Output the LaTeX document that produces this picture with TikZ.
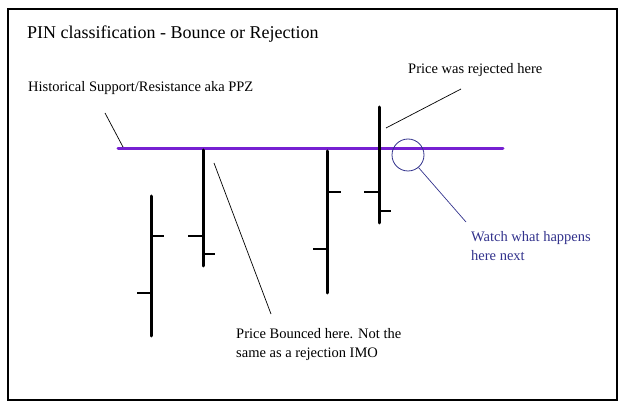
\documentclass[tikz,border=0pt]{standalone}
\usepackage{fontspec}
\setmainfont{Liberation Serif}
\definecolor{ppz}{RGB}{118,32,210}
\definecolor{navy}{RGB}{50,50,140}
\begin{document}
\begin{tikzpicture}[x=1pt,y=-1pt,
  bar/.style={line width=3pt,line cap=round},
  tick/.style={line width=2.6pt},
  pointer/.style={line width=0.7pt},
  lbl/.style={anchor=base west,inner sep=0pt,font=\fontsize{14.5}{16}\selectfont},
]
\useasboundingbox (0,0) rectangle (625,409);
\draw[line width=1.6pt] (8,9) rectangle (617,400);
\node[lbl,font=\fontsize{18}{20}\selectfont] (title) at (27,39) {PIN classification - Bounce or Rejection};
% PPZ line
\coordinate (ppzL) at (118,149);
\coordinate (ppzR) at (503,149);
\draw[line width=3pt,ppz,line cap=round] (ppzL) -- (ppzR);
% bars
\draw[bar] (151,196) -- (151,336);
\draw[tick] (137,293) -- (151,293) (151,236) -- (164,236);
\draw[bar] (203,150) -- (203,266);
\draw[tick] (188,236) -- (203,236) (203,254) -- (215,254);
\draw[bar] (327,151) -- (327,293);
\draw[tick] (313,249) -- (327,249) (327,192) -- (341,192);
\draw[bar] (379,107) -- (379,223);
\draw[tick] (364,192) -- (379,192) (379,211) -- (391,211);
% labels
\node[lbl] (hist) at (28,92) {Historical Support/Resistance aka PPZ};
\coordinate (h1) at (105,113);
\coordinate (h2) at (123,147);
\draw[pointer] (h1) -- (h2);
\node[lbl] (rej) at (408,74) {Price was rejected here};
\coordinate (r1) at (461,89);
\coordinate (r2) at (386,128);
\draw[pointer] (r1) -- (r2);
\node[lbl] (bnc1) at (236,338) {Price Bounced here. Not the};
\node[lbl] (bnc2) at (236,358) {same as a rejection IMO};
\coordinate (b1) at (214,163);
\coordinate (b2) at (271,314);
\draw[pointer] (b1) -- (b2);
\node[draw=navy,circle,minimum size=32pt,inner sep=0pt,line width=0.8pt] (circ) at (408,155) {};
\node[lbl,text=navy] (w1) at (471,242) {Watch what happens};
\node[lbl,text=navy] (w2) at (471,261) {here next};
\coordinate (w0) at (466,222);
\draw[pointer,navy] (circ.-50) -- (w0);
\end{tikzpicture}
\end{document}
